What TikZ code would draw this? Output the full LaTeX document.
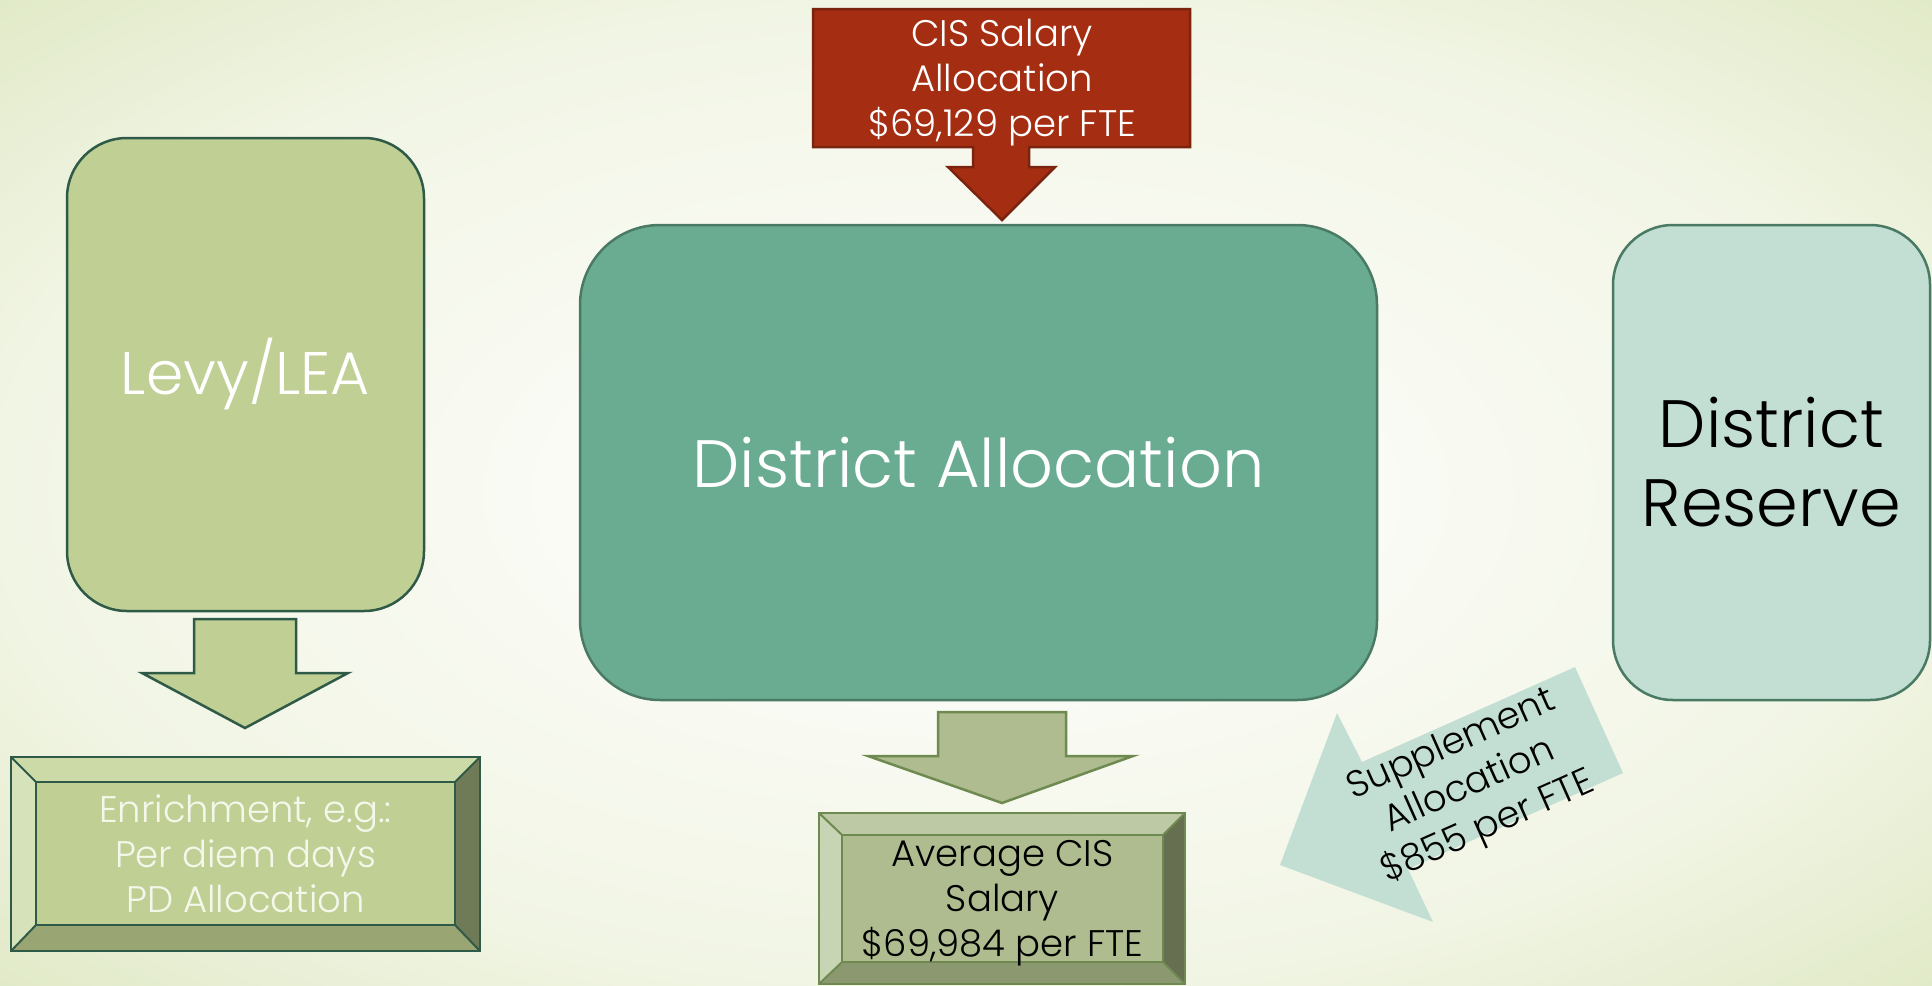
\documentclass[tikz,border=0pt]{standalone}
\usepackage{fontspec}
\setmainfont{Poppins Light}
\definecolor{bgin}{HTML}{FAFBF5}
\definecolor{bgmid}{HTML}{F1F5E4}
\definecolor{bgout}{HTML}{E0E9C6}
\definecolor{cisred}{HTML}{A52E12}
\definecolor{cisline}{HTML}{7A2410}
\definecolor{distfill}{HTML}{6AAC92}
\definecolor{distline}{HTML}{4A7A64}
\definecolor{levfill}{HTML}{C0D095}
\definecolor{darkline}{HTML}{2F5A48}
\definecolor{avgfill}{HTML}{AEBC90}
\definecolor{avgline}{HTML}{6E8A50}
\definecolor{resfill}{HTML}{C3DFD4}
\definecolor{enrtop}{HTML}{CCDAA8}
\definecolor{enrleft}{HTML}{D5E2BA}
\definecolor{enrright}{HTML}{6F7A56}
\definecolor{enrbot}{HTML}{9AA574}
\definecolor{avgtop}{HTML}{BCC9A4}
\definecolor{avgleft}{HTML}{C8D5B4}
\definecolor{avgright}{HTML}{666F50}
\definecolor{avgbot}{HTML}{8C9870}
\definecolor{enrtext}{HTML}{F4F7EA}
\pgfdeclareradialshading{slidebg}{\pgfpoint{0bp}{0bp}}{color(0bp)=(bgin); color(10bp)=(bgin); color(25bp)=(bgmid); color(36bp)=(bgout); color(50bp)=(bgout)}
\tikzset{
  roundbox/.style={rectangle, inner sep=0pt, line width=2.5pt, align=center},
  bigtext/.style={font=\fontsize{67}{79}\selectfont},
  midtext/.style={font=\fontsize{60}{66}\selectfont},
  smalltext/.style={font=\fontsize{37}{45}\selectfont, align=center},
  blockarrow/.style={line width=2.5pt, line join=miter},
}
\begin{document}
\begin{tikzpicture}[x=1pt,y=-1pt]
\useasboundingbox (0,0) rectangle (1932,985);
\shade[shading=slidebg] (0,0) rectangle (1932,985);
\clip (0,0) rectangle (1932,985);

% Levy/LEA box
\node[roundbox, draw=darkline, fill=levfill, rounded corners=60pt,
      minimum width=357pt, minimum height=473pt, text=white, midtext]
      (lev) at (245.5,374.5) {Levy/LEA};

% District allocation box
\node[roundbox, draw=distline, fill=distfill, rounded corners=80pt,
      minimum width=797pt, minimum height=475pt, text=white, bigtext]
      (dist) at (978.5,462.5) {District Allocation};

% District reserve box
\node[roundbox, draw=distline, fill=resfill, rounded corners=60pt,
      minimum width=317pt, minimum height=475pt, text=black, bigtext]
      (res) at (1771.5,462.5) {District\\Reserve};

% CIS salary arrow (down into district allocation)
\draw[blockarrow, draw=cisline, fill=cisred]
  (813,9) -- (1190,9) -- (1190,147) -- (1029,147) -- (1029,167) -- (1055,167)
  -- (1002,220) -- (948,167) -- (973,167) -- (973,147) -- (813,147) -- cycle;
\node[smalltext, text=white] (cis) at (1002,83) {CIS Salary\\Allocation\\\$69,129 per FTE};

% Levy arrow down
\draw[blockarrow, draw=darkline, fill=levfill]
  (194,619) -- (296,619) -- (296,673) -- (348,673) -- (245,728) -- (142,673) -- (194,673) -- cycle;

% Enrichment bevel box
\fill[enrtop] (11,757) -- (480,757) -- (455,782) -- (36,782) -- cycle;
\fill[enrbot] (11,951) -- (480,951) -- (455,925) -- (36,925) -- cycle;
\fill[enrleft] (11,757) -- (36,782) -- (36,925) -- (11,951) -- cycle;
\fill[enrright] (480,757) -- (455,782) -- (455,925) -- (480,951) -- cycle;
\draw[darkline, line width=2pt] (11,757) -- (36,782) (480,757) -- (455,782)
  (11,951) -- (36,925) (480,951) -- (455,925);
\draw[darkline, line width=2.5pt] (11,757) rectangle (480,951);
\node[rectangle, inner sep=0pt, draw=darkline, line width=2.5pt, fill=levfill,
      minimum width=419pt, minimum height=143pt, text=enrtext, smalltext]
      (enr) at (245.5,853.5) {Enrichment, e.g.:\\Per diem days\\PD Allocation};

% Middle arrow down
\draw[blockarrow, draw=avgline, fill=avgfill]
  (938,712) -- (1066,712) -- (1066,756) -- (1133,756) -- (1002,803) -- (868,756) -- (938,756) -- cycle;

% Average bevel box
\fill[avgtop] (819,813) -- (1185,813) -- (1163,835) -- (842,835) -- cycle;
\fill[avgbot] (819,984) -- (1185,984) -- (1163,962) -- (842,962) -- cycle;
\fill[avgleft] (819,813) -- (842,835) -- (842,962) -- (819,984) -- cycle;
\fill[avgright] (1185,813) -- (1163,835) -- (1163,962) -- (1185,984) -- cycle;
\draw[avgline, line width=2pt] (819,813) -- (842,835) (1185,813) -- (1163,835)
  (819,984) -- (842,962) (1185,984) -- (1163,962);
\draw[avgline, line width=2.5pt] (819,813) rectangle (1185,984);
\draw[avgline, line width=2.5pt, fill=avgfill] (842,835) rectangle (1163,962);
\node[smalltext, text=black] (avg) at (1002.5,903) {Average CIS\\Salary\\\$69,984 per FTE};

% Supplement arrow (from reserve to average)
\fill[resfill] (1575,667) -- (1623,773) -- (1408,869) -- (1433,922) -- (1280,865)
  -- (1337,713) -- (1362,762) -- cycle;
\node[smalltext, text=black, rotate=24] (sup) at (1470,787) {Supplement\\Allocation\\\$855 per FTE};
\end{tikzpicture}
\end{document}
